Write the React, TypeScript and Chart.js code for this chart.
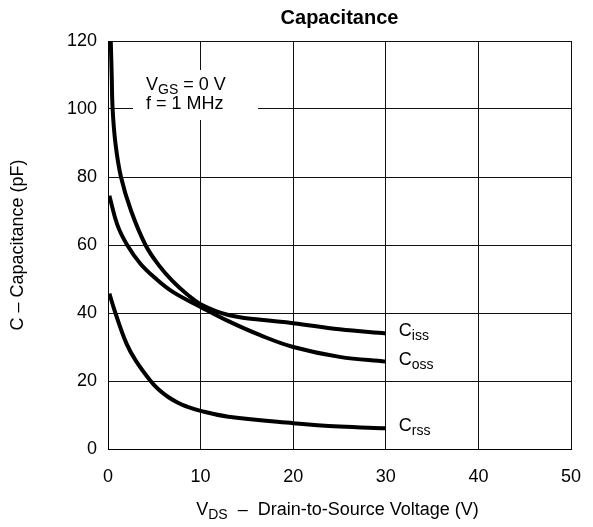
import React, { useEffect, useRef } from "react";
import { Chart, registerables } from "chart.js";

Chart.register(...registerables);

const cissV = [0.3, 0.4, 0.5, 0.8, 1.4, 2.5, 4.05, 5.5, 6.9, 8.5, 10, 13, 16.5, 20, 25, 30];
const cissC = [120, 110, 100, 90, 80, 70, 60, 54, 49.6, 45.6, 42.6, 39.4, 38, 37, 35.2, 34];
const cossV = [0.15, 1, 2.07, 3.5, 5, 7, 10, 13, 16.5, 20, 25, 30];
const cossC = [74.5, 66, 60, 54.5, 50.5, 46.2, 41.8, 37.6, 33.4, 30, 27.1, 25.7];
const crssV = [0.15, 0.8, 2, 3, 4.6, 5.5, 6.5, 7.5, 8.5, 10, 13, 20, 25, 30];
const crssC = [45.7, 40, 31, 26, 20, 17.4, 15.3, 13.7, 12.5, 11.2, 9.5, 7.6, 6.6, 6.1];

const seriesNames = [
  ["C", "iss"],
  ["C", "oss"],
  ["C", "rss"],
];
const chartTitle = "Capacitance";
const yTitle = "C \u2013 Capacitance (pF)";
const xTitleParts: [string, boolean][] = [
  ["V", false],
  ["DS", true],
  ["  \u2013  Drain-to-Source Voltage (V)", false],
];
const noteLine1: [string, boolean][] = [
  ["V", false],
  ["GS", true],
  [" = 0 V", false],
];
const noteLine2: [string, boolean][] = [["f = 1 MHz", false]];

const FONT = "'Liberation Sans', Arial, Helvetica, sans-serif";
const FS = 18;

function toPts(xs: number[], ys: number[]) {
  return xs.map((x, i) => ({ x, y: ys[i] }));
}

function drawParts(
  ctx: CanvasRenderingContext2D,
  parts: [string, boolean][],
  x: number,
  y: number,
  size: number,
  align: "left" | "center"
) {
  const subSize = Math.round(size * 0.78);
  let total = 0;
  const widths = parts.map(([t, sub]) => {
    ctx.font = `${sub ? subSize : size}px ${FONT}`;
    const w = ctx.measureText(t).width;
    total += w;
    return w;
  });
  let cx = align === "center" ? x - total / 2 : x;
  ctx.textBaseline = "middle";
  ctx.textAlign = "left";
  parts.forEach(([t, sub], i) => {
    ctx.font = `${sub ? subSize : size}px ${FONT}`;
    ctx.fillText(t, cx, sub ? y + size * 0.28 : y);
    cx += widths[i];
  });
}

const textPlugin = {
  id: "textPlugin",
  beforeDatasetsDraw(chart: any) {
    const ctx = chart.ctx as CanvasRenderingContext2D;
    const area = chart.chartArea;
    ctx.save();
    ctx.fillStyle = "#fff";
    const bx = area.left + 25;
    const by = area.top + 29;
    ctx.fillRect(bx, by, 125, 50);
    ctx.fillStyle = "#000";
    drawParts(ctx, noteLine1, bx + 13, by + 15, FS, "left");
    drawParts(ctx, noteLine2, bx + 13, by + 34, FS, "left");
    ctx.restore();
  },
  afterDraw(chart: any) {
    const ctx = chart.ctx as CanvasRenderingContext2D;
    const area = chart.chartArea;
    const xs = chart.scales.x;
    const ys = chart.scales.y;
    ctx.save();
    ctx.fillStyle = "#000";
    ctx.font = `bold 20px ${FONT}`;
    ctx.textAlign = "center";
    ctx.textBaseline = "middle";
    ctx.fillText(chartTitle, (area.left + area.right) / 2, 18);
    ctx.save();
    ctx.translate(18, (area.top + area.bottom) / 2);
    ctx.rotate(-Math.PI / 2);
    ctx.font = `${FS}px ${FONT}`;
    ctx.fillText(yTitle, 0, 0);
    ctx.restore();
    drawParts(ctx, xTitleParts, (area.left + area.right) / 2 - 2, 510, FS, "center");
    const ends = [cissC, cossC, crssC];
    const endX = [cissV, cossV, crssV];
    seriesNames.forEach(([a, b], i) => {
      const arr = ends[i];
      const vx = endX[i][endX[i].length - 1];
      const px = xs.getPixelForValue(vx) + 13;
      const py = ys.getPixelForValue(arr[arr.length - 1]);
      drawParts(ctx, [[a, false], [b, true]], px, py - 2, FS, "left");
    });
    ctx.restore();
  },
};

export default function App() {
  const ref = useRef<HTMLCanvasElement | null>(null);
  useEffect(() => {
    document.body.style.margin = "0";
    if (!ref.current) return;
    const line = (pts: any) => ({
      data: pts,
      borderColor: "#000",
      borderWidth: 4,
      pointRadius: 0,
      fill: false,
      tension: 0.4,
    });
    const chart = new Chart(ref.current, {
      type: "line",
      data: {
        datasets: [
          line(toPts(cissV, cissC)),
          line(toPts(cossV, cossC)),
          line(toPts(crssV, crssC)),
        ],
      },
      options: {
        animation: false,
        responsive: false,
        devicePixelRatio: 1,
        layout: { padding: { top: 41, right: 22, bottom: 0, left: 0 } },
        plugins: { legend: { display: false }, tooltip: { enabled: false }, title: { display: false } },
        scales: {
          x: {
            type: "linear",
            min: 0,
            max: 50,
            afterFit: (s: any) => {
              s.height = 78;
              s.paddingLeft = 0;
              s.paddingRight = 0;
            },
            ticks: { stepSize: 10, color: "#000", font: { size: FS, family: FONT }, padding: 17 },
            grid: { color: "#111", lineWidth: 1, drawTicks: false },
            border: { display: true, color: "#000", width: 1 },
          },
          y: {
            min: 0,
            max: 120,
            afterFit: (s: any) => {
              s.width = 108;
              s.paddingTop = 0;
              s.paddingBottom = 0;
            },
            ticks: { stepSize: 20, color: "#000", font: { size: FS, family: FONT }, padding: 11 },
            grid: { color: "#111", lineWidth: 1, drawTicks: false },
            border: { display: true, color: "#000", width: 1 },
          },
        },
      },
      plugins: [textPlugin],
    });
    return () => chart.destroy();
  }, []);
  return (
    <div style={{ width: 593, height: 527, background: "#fff" }}>
      <canvas ref={ref} width={593} height={527} style={{ display: "block" }} />
    </div>
  );
}
